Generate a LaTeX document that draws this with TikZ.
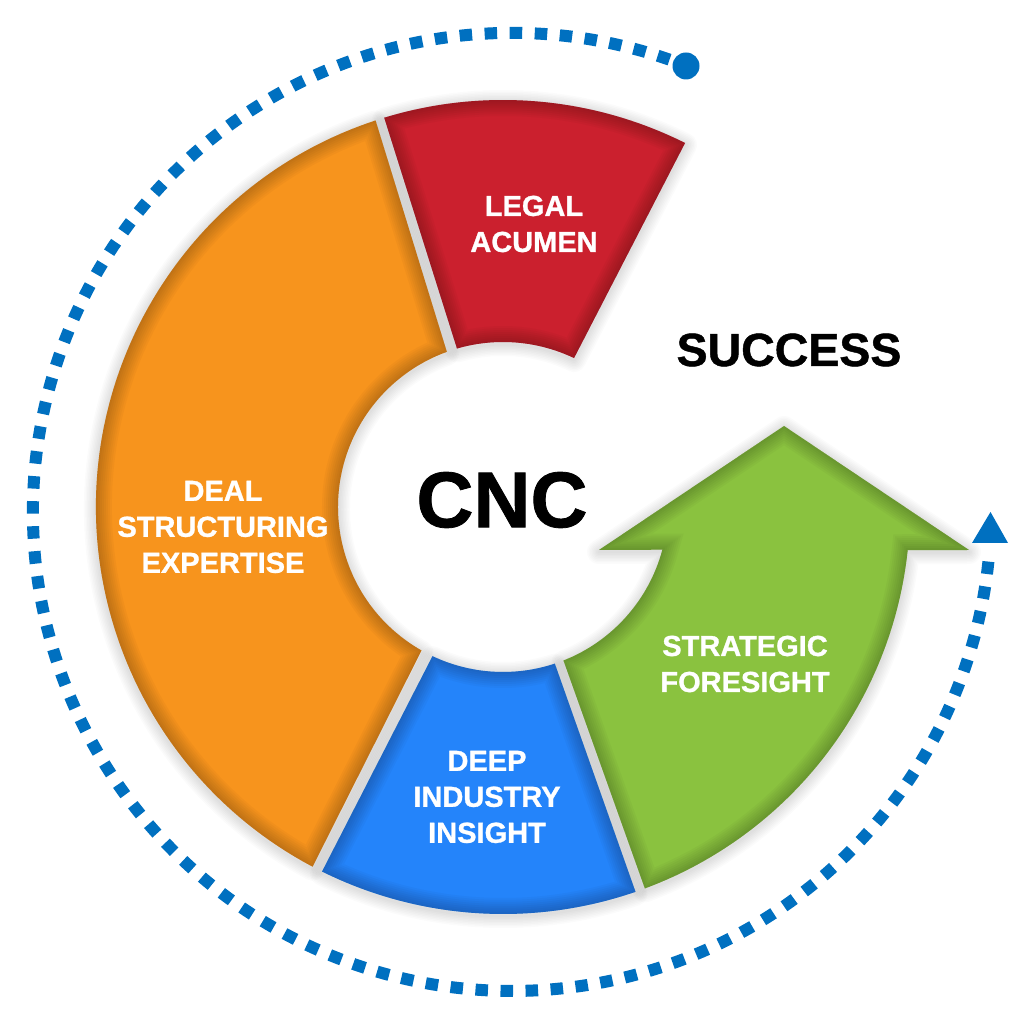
\documentclass[tikz,border=0pt]{standalone}
\usepackage{fontspec}
\setmainfont{Liberation Sans}[BoldFeatures={FakeBold=1.0}]
\definecolor{cred}{RGB}{203,32,46}
\definecolor{corange}{RGB}{247,148,29}
\definecolor{cblue}{RGB}{36,132,250}
\definecolor{cgreen}{RGB}{138,194,63}
\definecolor{cdash}{RGB}{0,112,192}
\newcommand\pathred{(106.97:407) arc[start angle=106.97,end angle=63.43,radius=407] -- (64.5:165) arc[start angle=64.5,end angle=106.2,radius=165] -- cycle}
\newcommand\pathorange{(108.25:407) arc[start angle=108.25,end angle=242.1,radius=407] -- (240.4:165) arc[start angle=240.4,end angle=109.9,radius=165] -- cycle}
\newcommand\pathblue{(243.6:407) arc[start angle=243.6,end angle=289,radius=407] -- (288.3:165) arc[start angle=288.3,end angle=244.7,radius=165] -- cycle}
\newcommand\pathgreen{(290.4:407) arc[start angle=290.4,end angle=353.9,radius=407] -- (466,-43) -- (281,81) -- (96,-43) -- (345:165) arc[start angle=345,end angle=291.5,radius=165] -- cycle}
\newcommand\softshadow[1]{\foreach \w in {3,6,9,12,15,18,21,24}{\draw[black,opacity=.017,line width=\w pt,line join=round,yshift=-2pt] #1;}}
\newcommand\shadedpart[2]{%
  \fill[#2] #1;
  \begin{scope}
    \clip #1;
    \foreach \w in {4,8,12,16,20,24,28,32}{\draw[black,opacity=.026,line width=\w pt,line join=miter] #1;}
  \end{scope}}
\tikzset{
  label text/.style={text=white,font=\bfseries\fontsize{29}{36}\selectfont,align=center,inner sep=0pt},
  big text/.style={text=black,font=\bfseries\fontsize{#1}{#1}\selectfont,inner sep=0pt},
  dash ring/.style={draw=cdash,line width=12pt,dash pattern=on 12.5pt off 12.56pt},
  end dot/.style={circle,fill=cdash,minimum size=27pt,inner sep=0pt}
}
\begin{document}
\begin{tikzpicture}[x=1pt,y=1pt]
\useasboundingbox (0,0) rectangle (1024,1024);
\fill[white] (0,0) rectangle (1024,1024);
\begin{scope}[shift={(503,517)}]
  \softshadow{\pathred}
  \softshadow{\pathorange}
  \softshadow{\pathblue}
  \softshadow{\pathgreen}
  \shadedpart{\pathred}{cred}
  \shadedpart{\pathorange}{corange}
  \shadedpart{\pathblue}{cblue}
  \shadedpart{\pathgreen}{cgreen}
\end{scope}
\begin{scope}[shift={(512,512)}]
  \draw[dash ring] (70.8:479) arc[start angle=70.8,end angle=354.6,radius=479];
\end{scope}
\node[end dot] (startdot) at (686,958) {};
\fill[cdash] (990.5,512) -- (972,481) -- (1008,481) -- cycle;
\node[label text] (legal) at (534,800) {LEGAL\\ACUMEN};
\node[label text] (deal) at (223,497) {DEAL\\STRUCTURING\\EXPERTISE};
\node[label text] (deep) at (487,227) {DEEP\\INDUSTRY\\INSIGHT};
\node[label text] (strategic) at (745,360) {STRATEGIC\\FORESIGHT};
\node[big text=79] (cnc) at (502,524) {CNC};
\node[big text=46.5] (success) at (789,674) {SUCCESS};
\end{tikzpicture}
\end{document}
